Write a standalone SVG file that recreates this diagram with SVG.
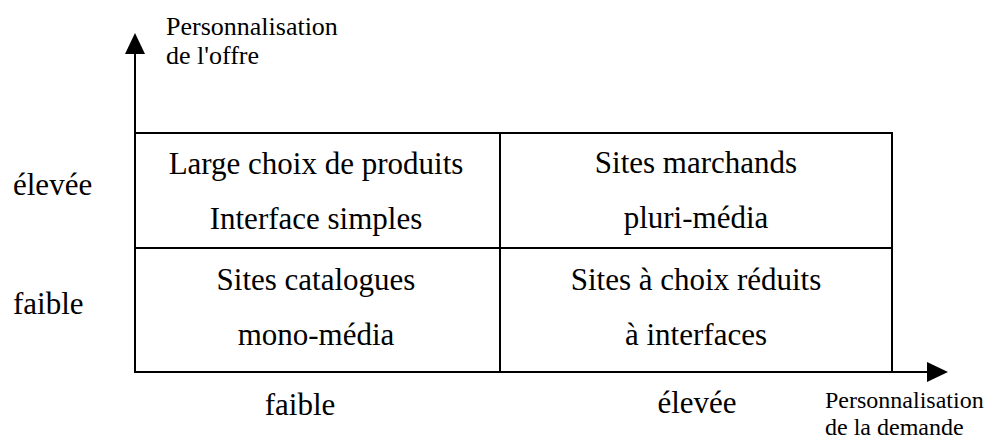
<svg xmlns="http://www.w3.org/2000/svg" width="1002" height="441" viewBox="0 0 1002 441">
<style>
text{font-family:"Liberation Serif","Times New Roman","DejaVu Serif","Noto Serif",Times,serif;fill:#000}
.c{font-size:31px;text-anchor:middle}
.l{font-size:31px}
.a{font-size:26px}
.b{font-size:24px}
.ln{stroke:#000;stroke-width:2;fill:none}
</style>
<defs>
<marker id="ah" markerWidth="21" markerHeight="21" refX="0" refY="10" orient="auto" markerUnits="userSpaceOnUse" viewBox="0 0 21 21">
<path d="M0,0 L21,10 L0,20 Z" fill="#000"/>
</marker>
</defs>
<rect width="1002" height="441" fill="#fff"/>
<g id="connectors">
<line class="ln" x1="135" y1="372" x2="135" y2="54" marker-end="url(#ah)"/>
<line class="ln" x1="134" y1="372" x2="927" y2="372" marker-end="url(#ah)"/>
</g>
<g id="grid">
<path class="ln" d="M134,133 H892 V371 M134,248 H892 M500,133 V371"/>
</g>
<g id="q-tl"><text class="c" x="316" y="174">Large choix de produits</text><text class="c" x="316" y="229">Interface simples</text></g>
<g id="q-tr"><text class="c" x="696" y="173">Sites marchands</text><text class="c" x="696" y="228">pluri-média</text></g>
<g id="q-bl"><text class="c" x="316" y="290">Sites catalogues</text><text class="c" x="316" y="345">mono-média</text></g>
<g id="q-br"><text class="c" x="696" y="290">Sites à choix réduits</text><text class="c" x="696" y="345">à interfaces</text></g>
<g id="y-labels"><text class="l" x="13" y="195">élevée</text><text class="l" x="13" y="314">faible</text></g>
<g id="x-labels"><text class="c" x="300" y="415">faible</text><text class="c" x="697" y="413">élevée</text></g>
<g id="y-title"><text class="a" x="166" y="35">Personnalisation</text><text class="a" x="166" y="64">de l'offre</text></g>
<g id="x-title"><text class="b" x="825" y="408">Personnalisation</text><text class="b" x="825" y="435">de la demande</text></g>
</svg>
